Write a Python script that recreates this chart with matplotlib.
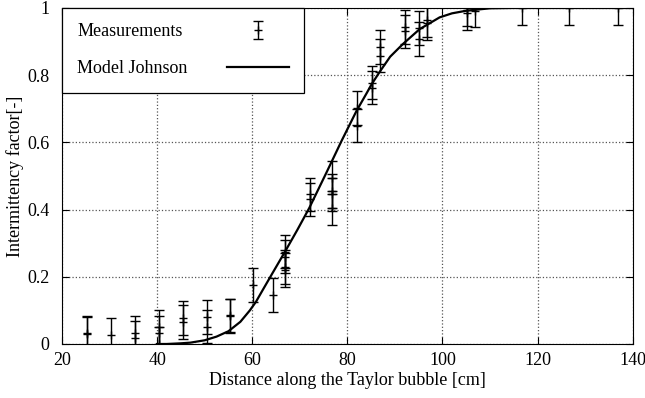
import matplotlib.pyplot as plt
from matplotlib.ticker import FormatStrFormatter

plt.rcParams['font.family'] = ['Liberation Serif', 'DejaVu Serif']

# measurements (position [cm], intermittency, half error bar)
x_meas = [25.3, 25.3, 30.3, 35.3, 35.3, 40.3, 40.3, 40.3, 45.4, 45.4,
          50.4, 50.4, 55.3, 55.3, 60.2, 64.3, 66.8, 66.8, 66.8, 66.8,
          72.1, 72.1, 76.7, 76.7, 76.7, 76.7, 82.0, 82.0, 85.2, 85.2,
          86.8, 86.8, 92.1, 92.1, 95.1, 95.1, 96.8, 96.8, 105.2, 105.2,
          106.8, 116.8, 126.6, 136.8]
y_meas = [0.033, 0.03, 0.028, 0.033, 0.017, 0.05, 0.033, 0.0, 0.078, 0.066,
          0.08, 0.052, 0.085, 0.083, 0.176, 0.145, 0.275, 0.26, 0.23, 0.22,
          0.445, 0.43, 0.495, 0.455, 0.445, 0.405, 0.703, 0.65, 0.778, 0.763,
          0.884, 0.858, 0.944, 0.93, 0.94, 0.908, 0.965, 0.955, 0.985, 0.995,
          0.992, 1.0, 1.0, 1.0]
err_meas = [0.05] * len(x_meas)

# Johnson model curve
x_model = [40, 42, 45, 47, 50, 52.5, 55, 57.5, 59.5, 60.8, 62.3, 64.1,
           66.9, 69.5, 72, 75.6, 78.8, 81.9, 84, 85.1, 86.8, 89, 91.7,
           95.2, 99.4, 102, 105.1, 110, 115, 125, 140]
y_model = [0.0, 0.0, 0.002, 0.004, 0.011, 0.022, 0.038, 0.066, 0.1, 0.126,
           0.163, 0.207, 0.275, 0.34, 0.405, 0.51, 0.605, 0.693, 0.745,
           0.773, 0.81, 0.855, 0.893, 0.937, 0.972, 0.984, 0.992, 0.999,
           1.0, 1.0, 1.0]

fig = plt.figure(figsize=(6.45, 3.98), dpi=100)
ax = fig.add_axes([0.0961, 0.1357, 0.8849, 0.8443])

meas = ax.errorbar(x_meas, y_meas, yerr=err_meas, fmt='k+', ms=6, mew=1.0,
                   ecolor='k', elinewidth=1.0, capsize=3.5, capthick=1.0,
                   label='Measurements')
model, = ax.plot(x_model, y_model, 'k-', lw=1.6, label='Model Johnson')

ax.set_xlim(20, 140)
ax.set_ylim(0, 1)
ax.set_xticks(range(20, 141, 20))
ax.set_yticks([0, 0.2, 0.4, 0.6, 0.8, 1])
ax.yaxis.set_major_formatter(FormatStrFormatter('%g'))
ax.tick_params(direction='in', top=True, right=True, labelsize=13, length=5)
ax.tick_params(axis='y', pad=9)
ax.tick_params(axis='x', pad=6)
ax.grid(True, linestyle=':', color='#555555', lw=0.9)

ax.set_xlabel('Distance along the Taylor bubble [cm]', fontsize=13, labelpad=2)
ax.set_ylabel('Intermittency factor[-]', fontsize=13, labelpad=2)

leg = ax.legend([meas, model], ['Measurements', 'Model Johnson'],
                loc='upper left', bbox_to_anchor=(0, 1), borderaxespad=0,
                markerfirst=False, fancybox=False, framealpha=1,
                edgecolor='k', fontsize=13, handlelength=3.4,
                handletextpad=2.2, borderpad=0.85, labelspacing=1.1)
leg.get_frame().set_linewidth(0.9)

# left-align the labels, keep the handles in one column
fig.canvas.draw()
r = fig.canvas.get_renderer()
widths = [t.get_window_extent(r).width for t in leg.get_texts()]
col = leg._legend_handle_box.get_children()[0]
col.align = 'left'
for row, w in zip(col.get_children(), widths):
    row.sep += (max(widths) - w) * 72.0 / fig.dpi

plt.savefig('out.png', dpi=100)
